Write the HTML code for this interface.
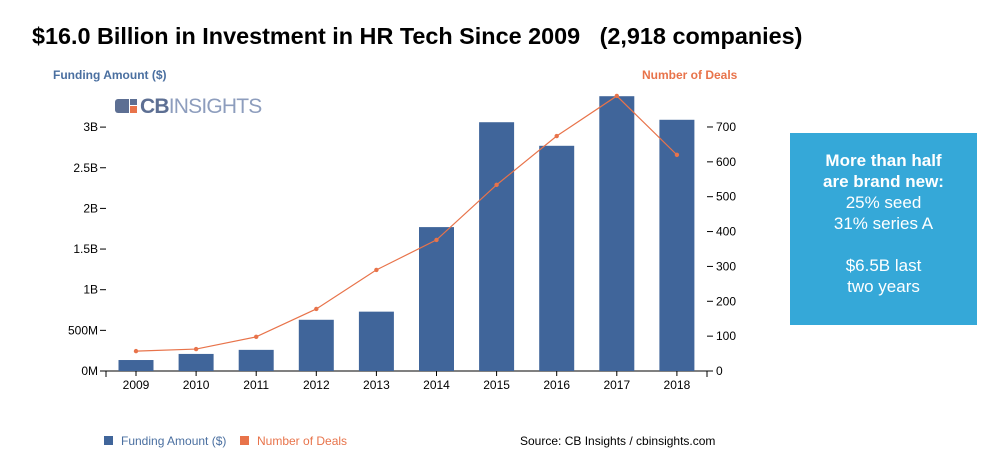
<!DOCTYPE html>
<html><head><meta charset="utf-8"><style>
body{margin:0;background:#fff;width:1000px;height:453px;overflow:hidden;font-family:"Liberation Sans",Arial,sans-serif;position:relative}
.t{position:absolute;white-space:nowrap}
</style></head><body>
<div class="t" style="left:32px;top:23px;font-size:23.4px;font-weight:bold;color:#000">$16.0 Billion in Investment in HR Tech Since 2009 &nbsp;&nbsp;(2,918 companies)</div>
<div class="t" style="left:53px;top:68px;font-size:12px;font-weight:bold;color:#4a6fa0">Funding Amount ($)</div>
<div class="t" style="left:642px;top:68px;font-size:12px;font-weight:bold;color:#e8734a">Number of Deals</div>
<div style="position:absolute;left:115px;top:96px;">
 <div style="position:absolute;left:0;top:3px;width:14px;height:14px;background:#5d6f93;border-radius:3px 0 0 3px"></div>
 <div style="position:absolute;left:15px;top:3px;width:7px;height:6px;background:#5d6f93"></div>
 <div style="position:absolute;left:15px;top:10px;width:7px;height:7px;background:#e8734a"></div>
 <div class="t" style="left:25px;top:-1px;font-size:21px;color:#5d6f93;letter-spacing:-0.8px"><b>CB</b><span style="color:#8d9dbd">INSIGHTS</span></div>
</div>
<svg id="chart" width="1000" height="453" style="position:absolute;left:0;top:0"></svg>
<div style="position:absolute;left:790px;top:133px;width:187px;height:192px;background:#35a8d8;color:#fff;text-align:center;font-size:17px;line-height:21px;padding-top:17px;box-sizing:border-box">
<b>More than half<br>are brand new:</b><br>25% seed<br>31% series A<br><br>$6.5B last<br>two years</div>
<div class="t" style="left:104px;top:434px;font-size:12px;color:#4a6fa0"><span style="display:inline-block;width:9px;height:9px;background:#40659a;margin-right:8px"></span>Funding Amount ($)</div>
<div class="t" style="left:240px;top:434px;font-size:12px;color:#e8734a"><span style="display:inline-block;width:9px;height:9px;background:#e8734a;margin-right:8px"></span>Number of Deals</div>
<div class="t" style="left:520px;top:434px;font-size:12px;color:#000">Source: CB Insights / cbinsights.com</div>
<script>
const years=["2009","2010","2011","2012","2013","2014","2015","2016","2017","2018"];
const funding=[0.135,0.21,0.26,0.63,0.73,1.77,3.06,2.77,3.38,3.09];
const deals=[57,63,98,178,290,376,534,674,789,620];
const leftTicks=[0,0.5,1,1.5,2,2.5,3];
const leftLabels=["0M","500M","1B","1.5B","2B","2.5B","3B"];
const rightTicks=[0,100,200,300,400,500,600,700];
const svg=document.getElementById('chart');const NS="http://www.w3.org/2000/svg";
const y0=371;
const yL=v=>y0-v*81.3;
const yR=v=>y0-v*0.3486;
const xC=i=>136+i*60.1;
function mk(t,a){const e=document.createElementNS(NS,t);for(const k in a)e.setAttribute(k,a[k]);svg.appendChild(e);return e;}
let e=mk('line',{x1:105,x2:707,y1:y0,y2:y0,stroke:'#000','stroke-width':1});


leftTicks.forEach((v,i)=>{
 mk('line',{x1:100,x2:106,y1:yL(v),y2:yL(v),stroke:'#000'});
 const t=mk('text',{x:98,y:yL(v)+4,'text-anchor':'end','font-size':12,fill:'#000','font-family':'Liberation Sans'});t.textContent=leftLabels[i];
 
 
});
rightTicks.forEach(v=>{
 mk('line',{x1:707,x2:713,y1:yR(v),y2:yR(v),stroke:'#000'});
 const t=mk('text',{x:716,y:yR(v)+4,'font-size':12,fill:'#000','font-family':'Liberation Sans'});t.textContent=v;
 
 
});
mk('line',{x1:106,x2:106,y1:y0,y2:y0+6,stroke:'#000'});
mk('line',{x1:707,x2:707,y1:y0,y2:y0+6,stroke:'#000'});
years.forEach((yr,i)=>{
 const b=mk('rect',{x:xC(i)-17.5,y:yL(funding[i]),width:35,height:y0-yL(funding[i]),fill:'#40659a'});
 
 
 mk('line',{x1:xC(i),x2:xC(i),y1:y0,y2:y0+5,stroke:'#000'});
 const t=mk('text',{x:xC(i),y:y0+18,'text-anchor':'middle','font-size':12,fill:'#000','font-family':'Liberation Sans'});t.textContent=yr;
 
 
});
const ln=mk('polyline',{points:deals.map((d,i)=>xC(i)+','+yR(d)).join(' '),fill:'none',stroke:'#e8734a','stroke-width':1.2});


deals.forEach((d,i)=>{
 const c=mk('circle',{cx:xC(i),cy:yR(d),r:2.2,fill:'#e8734a'});
 
 
});
</script>
</body></html>
